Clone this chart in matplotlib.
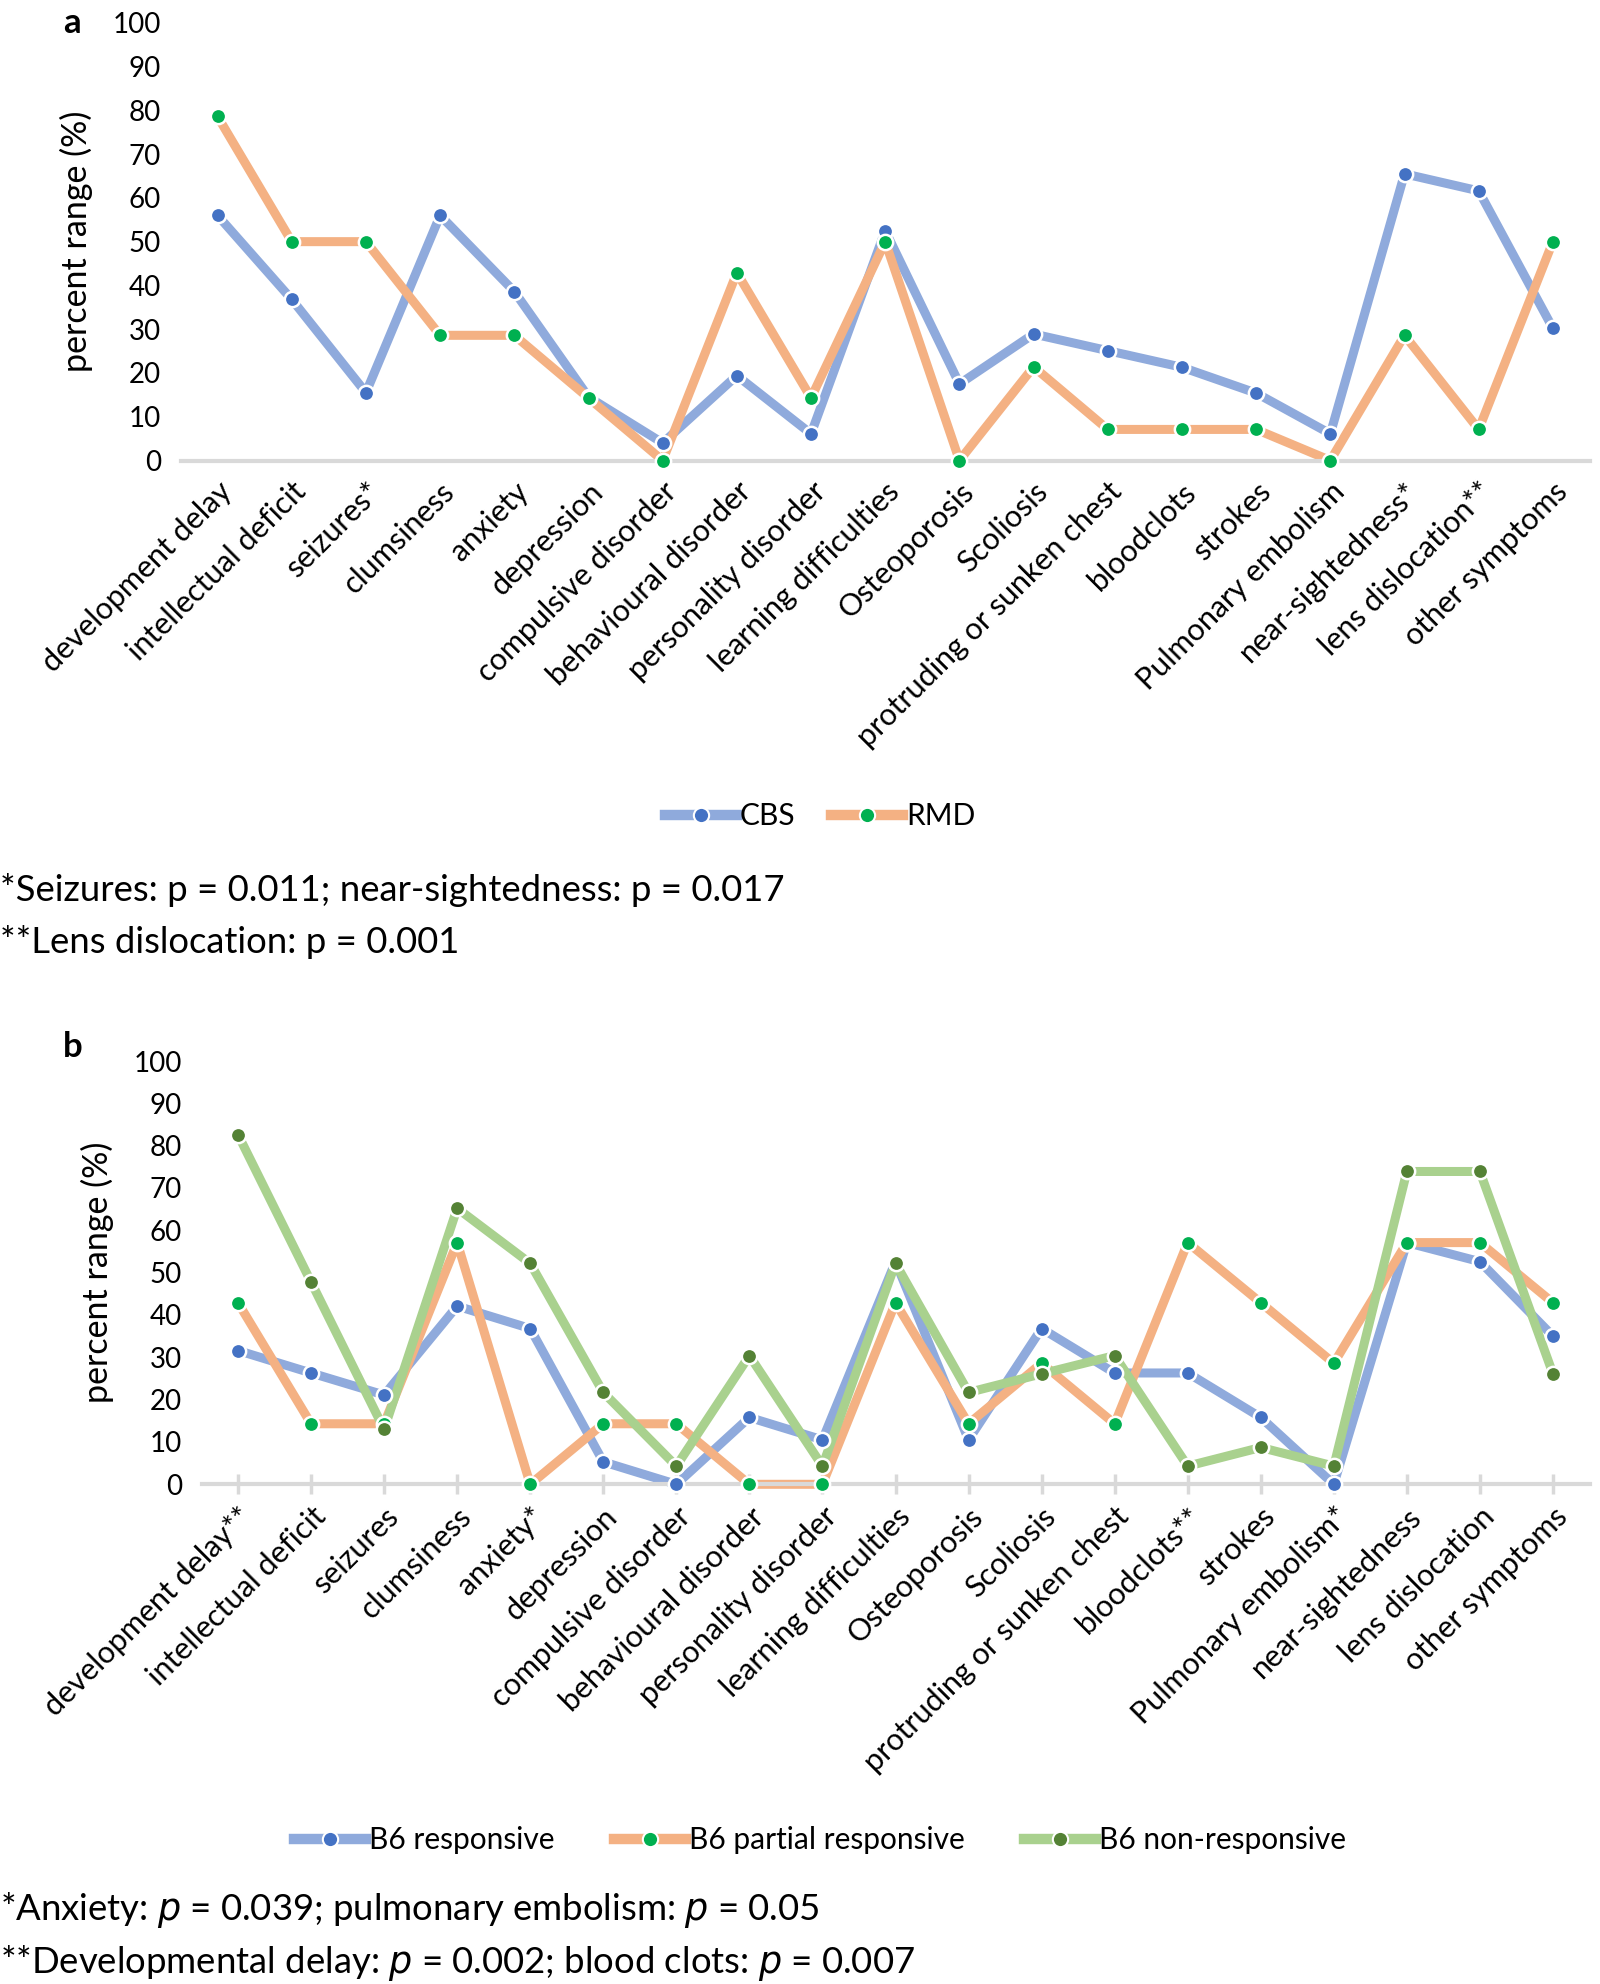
import matplotlib
matplotlib.use("Agg")
import matplotlib.pyplot as plt
from matplotlib.lines import Line2D

plt.rcParams['font.family'] = ['Lato', 'DejaVu Sans']

cats_a = ["development delay", "intellectual deficit", "seizures*", "clumsiness", "anxiety",
          "depression", "compulsive disorder", "behavioural disorder", "personality disorder",
          "learning difficulties", "Osteoporosis", "Scoliosis", "protruding or sunken chest",
          "bloodclots", "strokes", "Pulmonary embolism", "near-sightedness*",
          "lens dislocation**", "other symptoms"]
cbs = [56, 36.8, 15.5, 56, 38.6, 14.5, 4, 19.4, 6.1, 52.5, 17.5, 28.9, 25.1, 21.3, 15.4, 6.1, 65.5, 61.6, 30.2]
rmd = [78.6, 50, 50, 28.6, 28.6, 14.3, 0, 42.9, 14.3, 50, 0, 21.4, 7.1, 7.1, 7.1, 0, 28.6, 7.1, 50]

cats_b = ["development delay**", "intellectual deficit", "seizures", "clumsiness", "anxiety*",
          "depression", "compulsive disorder", "behavioural disorder", "personality disorder",
          "learning difficulties", "Osteoporosis", "Scoliosis", "protruding or sunken chest",
          "bloodclots**", "strokes", "Pulmonary embolism*", "near-sightedness",
          "lens dislocation", "other symptoms"]
b6_resp = [31.6, 26.3, 21.1, 42.1, 36.8, 5.3, 0, 15.8, 10.5, 52.6, 10.5, 36.8, 26.3, 26.3, 15.8, 0, 57.1, 52.6, 35.0]
b6_part = [42.9, 14.3, 14.3, 57.1, 0, 14.3, 14.3, 0, 0, 42.9, 14.3, 28.6, 14.3, 57.1, 42.9, 28.6, 57.1, 57.1, 42.9]
b6_non = [82.6, 47.8, 13.0, 65.2, 52.2, 21.7, 4.3, 30.4, 4.3, 52.2, 21.7, 26.1, 30.4, 4.3, 8.7, 4.3, 73.9, 73.9, 26.1]

yticks = [0, 10, 20, 30, 40, 50, 60, 70, 80, 90, 100]

W, H = 1600, 1984
fig = plt.figure(figsize=(16, 19.84), dpi=100)

def fx(px):
    return px / W

def fy(py):
    return 1 - py / H

def make_ax(left, right, top0, bottom0, cats, series, ticks):
    ax = fig.add_axes([fx(left), fy(bottom0), fx(right - left), fy(top0) - fy(bottom0)])
    x = list(range(len(cats)))
    handles = []
    for vals, lc, mc, lab in series:
        ax.plot(x, vals, color=lc, lw=6.5, solid_capstyle='butt', zorder=2, clip_on=False)
        ax.plot(x, vals, ls='none', marker='o', ms=11, mfc=mc, mec='white', mew=1.8,
                zorder=3, clip_on=False)
        handles.append(Line2D([0], [0], color=lc, lw=7.5, marker='o', ms=11, mfc=mc,
                              mec='white', mew=1.5, label=lab))
    ax.set_xlim(-0.5, len(cats) - 0.5)
    ax.set_ylim(0, 100)
    ax.set_yticks(yticks)
    ax.set_yticklabels([str(t) for t in yticks], fontsize=20)
    ax.tick_params(axis='y', length=0, pad=14)
    ax.set_xticks(x)
    ax.set_xticklabels(cats, rotation=45, ha='right', rotation_mode='anchor', fontsize=22)
    if ticks:
        ax.tick_params(axis='x', length=14, width=2.5, color='#D9D9D9', direction='inout', pad=6)
    else:
        ax.tick_params(axis='x', length=0, pad=12)
    for s in ['top', 'right', 'left']:
        ax.spines[s].set_visible(False)
    ax.spines['bottom'].set_color('#D9D9D9')
    ax.spines['bottom'].set_linewidth(3)
    ax.set_ylabel("percent range (%)", fontsize=24.5, labelpad=14)
    return ax, handles

ax1, h1 = make_ax(180.5, 1590, 22.8, 460.5, cats_a,
                  [(cbs, '#8FAADC', '#4472C4', 'CBS'), (rmd, '#F4B183', '#00B050', 'RMD')], False)
ax2, h2 = make_ax(201.5, 1589.5, 1061, 1484.3, cats_b,
                  [(b6_resp, '#8FAADC', '#4472C4', 'B6 responsive'),
                   (b6_part, '#F4B183', '#00B050', 'B6 partial responsive'),
                   (b6_non, '#A9D18E', '#548235', 'B6 non-responsive')], True)

fig.legend(handles=h1, loc='center', bbox_to_anchor=(fx(820), fy(816)), ncol=2, frameon=False,
           fontsize=21.5, handlelength=2.4, handletextpad=0.1, columnspacing=1.2)
fig.legend(handles=h2, loc='center', bbox_to_anchor=(fx(820), fy(1840)), ncol=3, frameon=False,
           fontsize=21.5, handlelength=2.4, handletextpad=0.1, columnspacing=2.0)

fig.text(fx(63), fy(23), "a", fontsize=25, fontweight='bold', ha='left', va='center')
fig.text(fx(63), fy(1047), "b", fontsize=25, fontweight='bold', ha='left', va='center')

fig.text(0.0, fy(890), "*Seizures: p = 0.011; near-sightedness: p = 0.017", fontsize=26.3, ha='left', va='center')
fig.text(0.0, fy(942), "**Lens dislocation: p = 0.001", fontsize=26.3, ha='left', va='center')
fig.text(0.0, fy(1910), r"*Anxiety: $\it{p}$ = 0.039; pulmonary embolism: $\it{p}$ = 0.05", fontsize=26.3, ha='left', va='center')
fig.text(0.0, fy(1963), r"**Developmental delay: $\it{p}$ = 0.002; blood clots: $\it{p}$ = 0.007", fontsize=26.3, ha='left', va='center')

fig.savefig("out.png", dpi=100, facecolor='white')
